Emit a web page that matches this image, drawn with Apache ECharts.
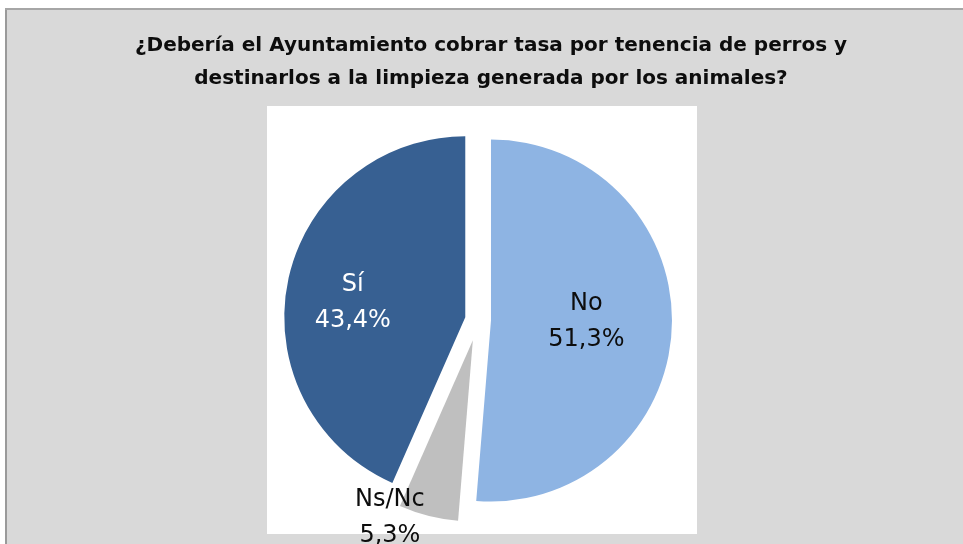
<!DOCTYPE html>
<html>
<head>
<meta charset="utf-8">
<title>Tasa por tenencia de perros</title>
<script src="https://cdn.jsdelivr.net/npm/echarts@6/dist/echarts.min.js"></script>
<style>
    html, body { margin: 0; padding: 0; background: #fff; }
    #pie_tasa_perros { width: 963px; height: 544px; }
</style>
</head>
<body>
<div id="pie_tasa_perros"></div>
<script>
// Chart data
// ------------------------------

var categories = ['No', 'Ns/Nc', 'Sí'];
var percentages = [51.3, 5.3, 43.4];
var sliceColors = ['#8EB4E3', '#BFBFBF', '#376092'];
var labelColors = ['#0d0d0d', '#0d0d0d', '#ffffff'];

var chartTitle = '¿Debería el Ayuntamiento cobrar tasa por tenencia de perros y\n' +
    'destinarlos a la limpieza generada por los animales?';


// Setup module
// ------------------------------

var EchartsPieTasaPerros = function() {

    // Label nudges (px) so labels sit where the original ones do
    var labelNudge = {
        'No': [2, -3],
        'Ns/Nc': [-60, 87],
        'Sí': [-21, 5]
    };

    var formatPct = function(v) {
        return v.toFixed(1).replace('.', ',') + '%';
    };

    // Build data for one pie layer; only the names in "visible" get drawn
    var buildData = function(visible) {
        return categories.map(function(name, i) {
            var shown = visible.indexOf(name) > -1;
            return {
                name: name,
                value: percentages[i],
                selected: true,
                itemStyle: {
                    color: shown ? sliceColors[i] : 'rgba(0,0,0,0)'
                },
                label: {
                    show: shown,
                    color: labelColors[i]
                }
            };
        });
    };

    var pieLayer = function(visible, offset) {
        return {
            type: 'pie',
            center: [478, 320],
            radius: 181,
            startAngle: 90,
            clockwise: true,
            selectedMode: 'multiple',
            selectedOffset: offset,
            silent: true,
            animation: false,
            label: {
                position: 'inside',
                fontFamily: 'DejaVu Sans, sans-serif',
                fontSize: 24,
                lineHeight: 36,
                formatter: function(p) {
                    return p.name + '\n' + formatPct(p.value);
                }
            },
            labelLine: { show: false },
            labelLayout: function(params) {
                var n = labelNudge[categories[params.dataIndex]];
                return { dx: n[0], dy: n[1] };
            },
            emphasis: { disabled: true },
            data: buildData(visible)
        };
    };

    var _pieTasaPerros = function() {
        if (typeof echarts == 'undefined') {
            console.warn('Warning - echarts.min.js is not loaded.');
            return;
        }

        var pie_element = document.getElementById('pie_tasa_perros');
        if (!pie_element) return;

        var pie_chart = echarts.init(pie_element);

        pie_chart.setOption({
            animation: false,

            // Chart frame: gray panel, left/top border, white plot area
            graphic: [
                {
                    type: 'rect',
                    z: -10,
                    shape: { x: 5, y: 8, width: 958, height: 536 },
                    style: { fill: '#D9D9D9' }
                },
                {
                    type: 'line',
                    z: -9,
                    shape: { x1: 6, y1: 8, x2: 6, y2: 544 },
                    style: { stroke: '#9a9a9a', lineWidth: 2 }
                },
                {
                    type: 'line',
                    z: -9,
                    shape: { x1: 5, y1: 9, x2: 963, y2: 9 },
                    style: { stroke: '#a6a6a6', lineWidth: 2 }
                },
                {
                    type: 'rect',
                    z: -8,
                    shape: { x: 267, y: 106, width: 430, height: 428 },
                    style: { fill: '#ffffff' }
                }
            ],

            // Title
            title: {
                text: chartTitle,
                left: 491,
                top: 29,
                padding: 0,
                textAlign: 'center',
                textStyle: {
                    fontFamily: 'DejaVu Sans, sans-serif',
                    fontSize: 20,
                    fontWeight: 'bold',
                    lineHeight: 33,
                    color: '#0d0d0d'
                }
            },

            // Two layers so Ns/Nc can be pulled out further than the rest
            series: [
                pieLayer(['No', 'Sí'], 13),
                pieLayer(['Ns/Nc'], 21)
            ]
        });

        window.addEventListener('resize', function() {
            pie_chart.resize();
        });
    };

    return {
        init: function() {
            _pieTasaPerros();
        }
    };
}();


// Initialize module
// ------------------------------

document.addEventListener('DOMContentLoaded', function() {
    EchartsPieTasaPerros.init();
});
</script>
</body>
</html>
